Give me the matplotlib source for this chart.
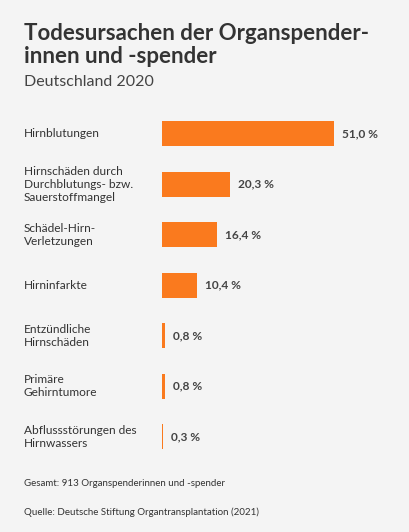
import matplotlib.pyplot as plt
import matplotlib.transforms as mtransforms

categories = ['Hirnblutungen', 'Hirnschäden durch\nDurchblutungs- bzw.\nSauerstoffmangel',
              'Schädel-Hirn-\nVerletzungen', 'Hirninfarkte', 'Entzündliche\nHirnschäden',
              'Primäre\nGehirntumore', 'Abflussstörungen des\nHirnwassers']
values = [51.0, 20.3, 16.4, 10.4, 0.8, 0.8, 0.3]
labels = ['51,0 %', '20,3 %', '16,4 %', '10,4 %', '0,8 %', '0,8 %', '0,3 %']

bg = '#f4f4f4'
orange = '#fa7a1e'
dark = '#333333'
plt.rcParams['font.family'] = ['Lato', 'DejaVu Sans']

fig = plt.figure(figsize=(4.10, 5.32), dpi=100, facecolor=bg)
W, H = 410, 532
ax = fig.add_axes([162 / W, 1 - 462 / H, (W - 162) / W, 353.5 / H])
ax.set_facecolor(bg)
ypos = range(len(values))
ax.barh(ypos, values, height=0.5, color=orange)
ax.set_xlim(0, (W - 162) / 3.37)
ax.set_ylim(6.5, -0.5)
ax.axis('off')

trans = mtransforms.blended_transform_factory(fig.transFigure, ax.transData)
for y, cat, v, lab in zip(ypos, categories, values, labels):
    ax.text(24 / W, y, cat, transform=trans, ha='left', va='center',
            fontsize=8.6, color=dark, linespacing=1.2)
    ax.text(v + 2.4, y, lab, ha='left', va='center', fontsize=8.6,
            fontweight='bold', color='#444444')

fig.text(24 / W, 1 - 45 / H, 'Todesursachen der Organspender-\ninnen und -spender',
         ha='left', va='center', fontsize=16, fontweight='bold', color=dark, linespacing=1.1)
fig.text(24 / W, 1 - 82 / H, 'Deutschland 2020', ha='left', va='center',
         fontsize=11.5, color='#444444')
fig.text(24 / W, 1 - 484 / H, 'Gesamt: 913 Organspenderinnen und -spender',
         ha='left', va='center', fontsize=7, color=dark)
fig.text(24 / W, 1 - 512 / H, 'Quelle: Deutsche Stiftung Organtransplantation (2021)',
         ha='left', va='center', fontsize=7, color=dark)

fig.savefig('out.png', dpi=100, facecolor=bg)
